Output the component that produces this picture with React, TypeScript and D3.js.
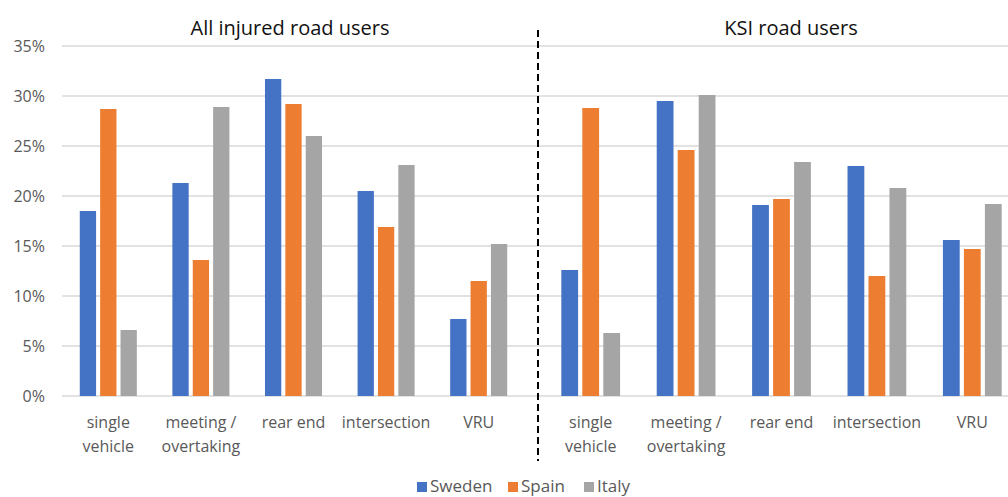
import * as d3 from "d3";

const series = ["Sweden", "Spain", "Italy"];
const colors = ["#4472C4", "#ED7D31", "#A5A5A5"];
const categories = ["single vehicle", "meeting / overtaking", "rear end", "intersection", "VRU"];
const catLines = [["single", "vehicle"], ["meeting /", "overtaking"], ["rear end"], ["intersection"], ["VRU"]];
const yTicks = [0, 5, 10, 15, 20, 25, 30, 35];

// all injured road users
const allSweden = [18.5, 21.3, 31.7, 20.5, 7.7];
const allSpain = [28.7, 13.6, 29.2, 16.9, 11.5];
const allItaly = [6.6, 28.9, 26.0, 23.1, 15.2];

// KSI road users
const ksiSweden = [12.6, 29.5, 19.1, 23.0, 15.6];
const ksiSpain = [28.8, 24.6, 19.7, 12.0, 14.7];
const ksiItaly = [6.3, 30.1, 23.4, 20.8, 19.2];

const W = 1008;
const H = 497;
const font = "'Open Sans', 'Noto Sans', sans-serif";

const y = d3.scaleLinear().domain([0, 35]).range([396, 46]);

const panels = [
  { title: "All injured road users", titleX: 290, range: [62, 525], values: [allSweden, allSpain, allItaly] },
  { title: "KSI road users", titleX: 791, range: [543, 1020], values: [ksiSweden, ksiSpain, ksiItaly] },
];

export default function App() {
  return (
    <svg width={W} height={H} style={{ position: "absolute", left: 0, top: 0, background: "#fff" }}>
      {yTicks.map((t) => (
        <g key={t}>
          <line x1={62} x2={W} y1={y(t)} y2={y(t)} stroke="#D9D9D9" strokeWidth={1.5} />
          <text x={45} y={y(t) + 5.5} textAnchor="end" fontSize={16} fill="#595959" fontFamily={font}>
            {t}%
          </text>
        </g>
      ))}
      {panels.map((p, pi) => {
        const x0 = d3.scaleBand<string>().domain(categories).range(p.range as [number, number]);
        const step = x0.step();
        return (
          <g key={pi}>
            <text x={p.titleX} y={35} textAnchor="middle" fontSize={20} fill="#111" fontFamily={font}>
              {p.title}
            </text>
            {categories.map((c, ci) => {
              const cx = (x0(c) as number) + step / 2;
              const x1 = d3
                .scaleBand<string>()
                .domain(series)
                .range([cx - 0.308 * step, cx + 0.308 * step])
                .paddingInner(0.2);
              return (
                <g key={c}>
                  {series.map((s, si) => {
                    const v = p.values[si][ci];
                    return (
                      <rect
                        key={s}
                        x={x1(s)}
                        y={y(v)}
                        width={x1.bandwidth()}
                        height={y(0) - y(v)}
                        fill={colors[si]}
                      />
                    );
                  })}
                  {catLines[ci].map((ln, li) => (
                    <text
                      key={li}
                      x={cx}
                      y={428 + li * 24}
                      textAnchor="middle"
                      fontSize={16}
                      fill="#595959"
                      fontFamily={font}
                    >
                      {ln}
                    </text>
                  ))}
                </g>
              );
            })}
          </g>
        );
      })}
      <line x1={538} x2={538} y1={30} y2={461} stroke="#000" strokeWidth={2} strokeDasharray="7 4" />
      {series.map((s, i) => {
        const lx = [417, 508, 584][i];
        return (
          <g key={s}>
            <rect x={lx} y={482} width={10} height={10} fill={colors[i]} />
            <text x={lx + 13} y={492} fontSize={17} fill="#595959" fontFamily={font}>
              {s}
            </text>
          </g>
        );
      })}
    </svg>
  );
}
